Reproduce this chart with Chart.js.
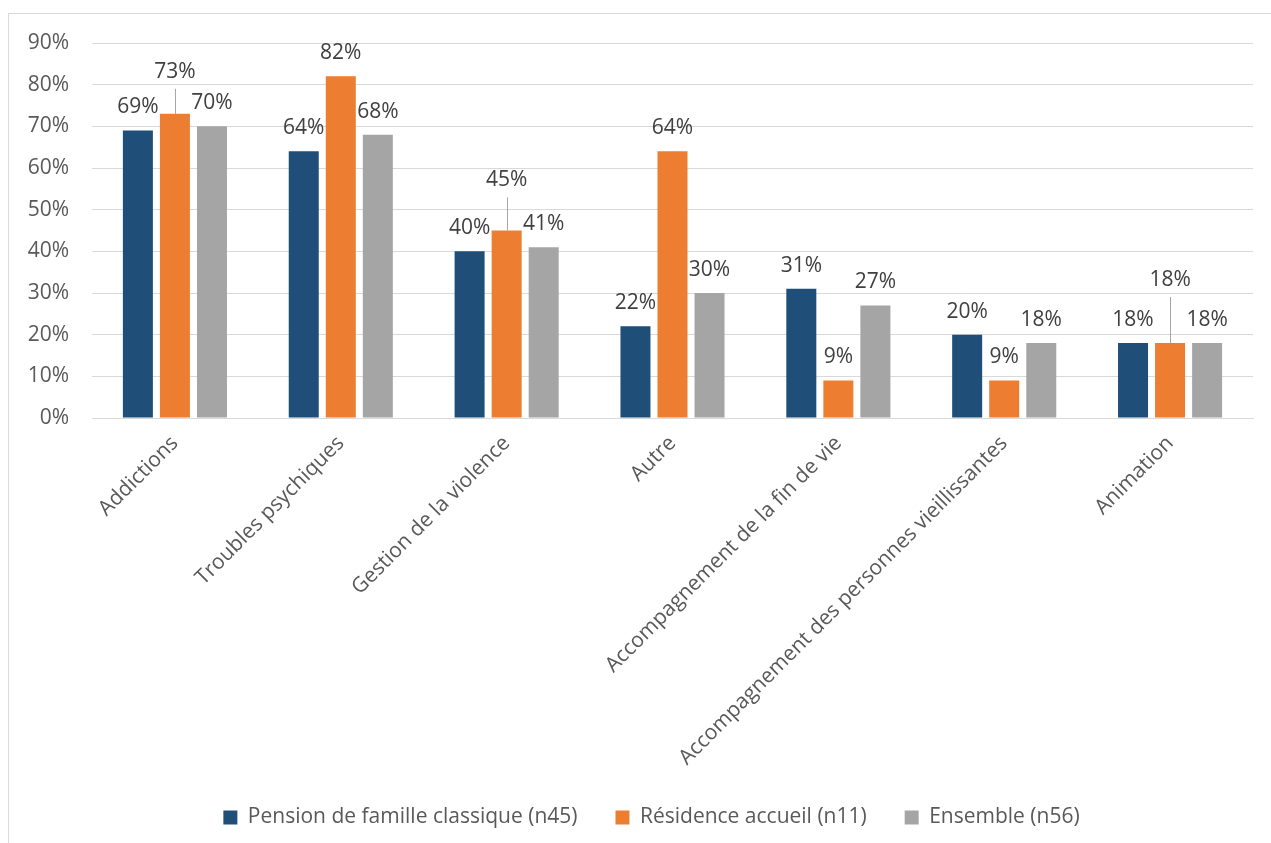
<!DOCTYPE html>
<html lang="fr">
<head>
<meta charset="utf-8">
<title>Formations suivies</title>
<script src="https://cdn.jsdelivr.net/npm/chart.js@4.4.1/dist/chart.umd.min.js"></script>
<style>
  html, body { margin: 0; padding: 0; background: #fff; }
  body { width: 1271px; height: 843px; position: relative; overflow: hidden; }
  .frame { position: absolute; left: 8px; top: 13px; right: -5px; bottom: -5px; border: 1px solid #d9d9d9; }
  #chart { position: absolute; left: 0; top: 0; }
</style>
</head>
<body>
<div class="frame"></div>
<canvas id="chart" width="1271" height="843"></canvas>
<script>
// categories and series (percent)
const categories = [
  'Addictions',
  'Troubles psychiques',
  'Gestion de la violence',
  'Autre',
  'Accompagnement de la fin de vie',
  'Accompagnement des personnes vieillissantes',
  'Animation'
];
const pensionFamille = [69, 64, 40, 22, 31, 20, 18];
const residenceAccueil = [73, 82, 45, 64, 9, 9, 18];
const ensemble = [70, 68, 41, 30, 27, 18, 18];
const yTicks = [0, 10, 20, 30, 40, 50, 60, 70, 80, 90];

// labels moved up in the original, drawn with a leader line
const liftedLabels = [
  { dataset: 1, index: 0, lift: 19 },
  { dataset: 1, index: 2, lift: 27 },
  { dataset: 1, index: 6, lift: 40 }
];

const FONT = "'Open Sans', 'Noto Sans', sans-serif";
const FS = 21;

// simple value labels above the bars
const barLabels = {
  id: 'barLabels',
  afterLayout(chart) {
    // legend sits a bit right of centre in the original
    chart.legend.left += 20;
    chart.legend.right += 20;
  },
  afterDatasetsDraw(chart) {
    const ctx = chart.ctx;
    ctx.save();
    ctx.font = FS + 'px ' + FONT;
    ctx.fillStyle = '#404040';
    ctx.textAlign = 'center';
    ctx.textBaseline = 'middle';
    chart.data.datasets.forEach((ds, di) => {
      const meta = chart.getDatasetMeta(di);
      meta.data.forEach((bar, i) => {
        const lifted = liftedLabels.find(l => l.dataset === di && l.index === i);
        const lift = lifted ? lifted.lift : 0;
        const y = bar.y - 23 - lift;
        if (lifted) {
          ctx.strokeStyle = '#a6a6a6';
          ctx.lineWidth = 1;
          ctx.beginPath();
          ctx.moveTo(Math.round(bar.x) + 0.5, bar.y);
          ctx.lineTo(Math.round(bar.x) + 0.5, y + 17);
          ctx.stroke();
        }
        ctx.fillText(ds.data[i] + '%', bar.x, y);
      });
    });
    ctx.restore();
  }
};

new Chart(document.getElementById('chart'), {
  type: 'bar',
  data: {
    labels: categories,
    datasets: [
      { label: 'Pension de famille classique (n45)', data: pensionFamille, backgroundColor: '#1f4e79' },
      { label: 'Résidence accueil (n11)', data: residenceAccueil, backgroundColor: '#ed7d31' },
      { label: 'Ensemble (n56)', data: ensemble, backgroundColor: '#a5a5a5' }
    ]
  },
  options: {
    responsive: false,
    animation: false,
    categoryPercentage: 0.67,
    barPercentage: 0.81,
    layout: { padding: { top: 43, right: 18, left: 10, bottom: 5 } },
    scales: {
      x: {
        afterFit(scale) { scale.height = 351; },
        grid: { display: false },
        border: { color: '#d9d9d9', width: 1 },
        ticks: {
          color: '#595959',
          font: { family: FONT, size: FS },
          minRotation: 45,
          maxRotation: 45,
          autoSkip: false,
          padding: 5
        }
      },
      y: {
        min: 0,
        max: 90,
        afterFit(scale) { scale.width = 82; },
        afterBuildTicks(scale) { scale.ticks = yTicks.map(v => ({ value: v })); },
        grid: { color: '#d9d9d9', lineWidth: 1, drawTicks: false },
        border: { display: false },
        ticks: {
          color: '#595959',
          font: { family: FONT, size: FS },
          padding: 23,
          callback: v => v + '%'
        }
      }
    },
    plugins: {
      legend: {
        position: 'bottom',
        labels: {
          color: '#595959',
          font: { family: FONT, size: FS },
          boxWidth: 14,
          boxHeight: 14,
          padding: 38
        }
      },
      tooltip: { enabled: false }
    }
  },
  plugins: [barLabels]
});
</script>
</body>
</html>
